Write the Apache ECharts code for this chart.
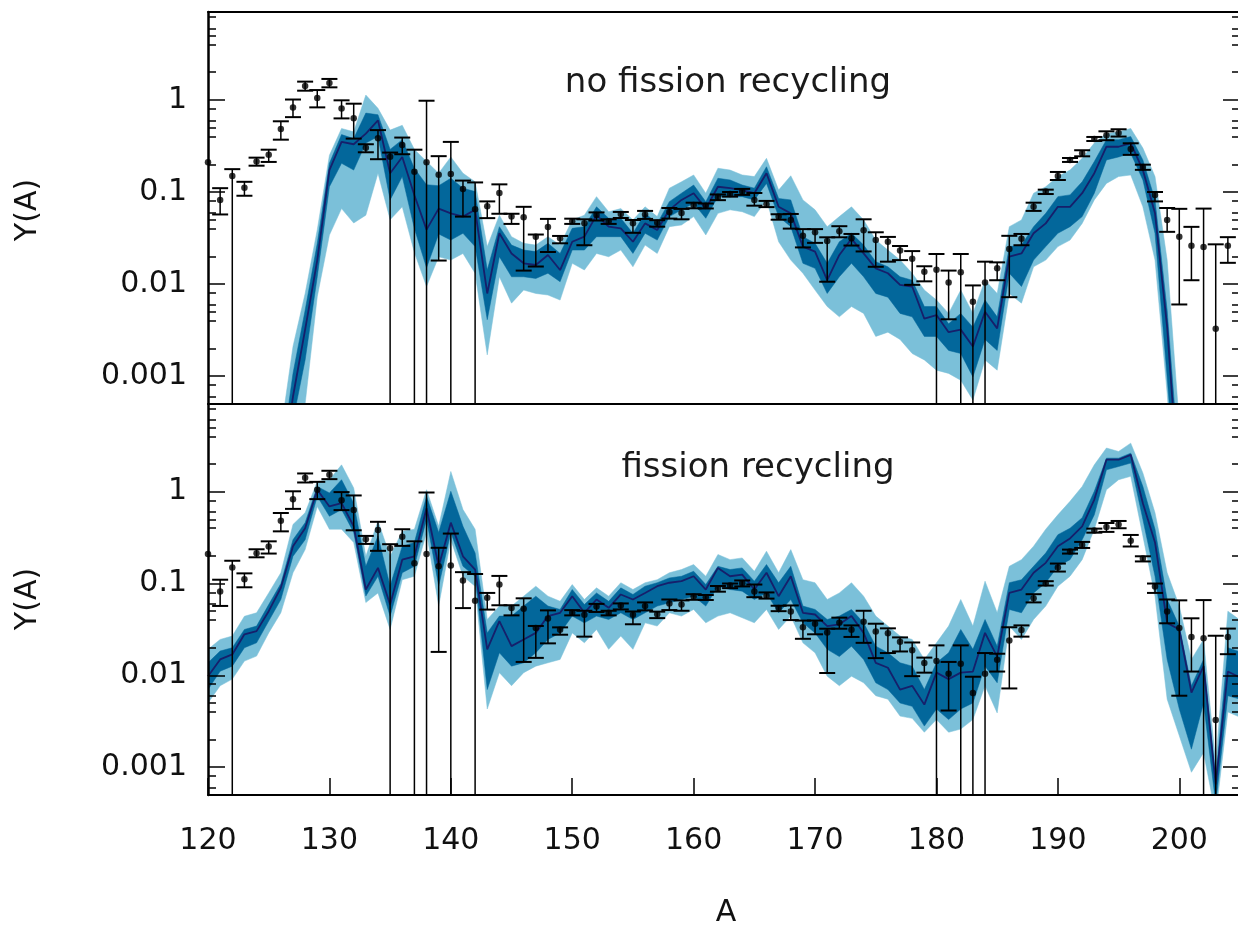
<!DOCTYPE html>
<html>
<head>
<meta charset="utf-8">
<script src="https://cdn.jsdelivr.net/npm/echarts@6/dist/echarts.min.js"></script>
<style>html,body{margin:0;padding:0;background:#fff}#c{width:1238px;height:929px}</style>
</head>
<body>
<div id="c"></div>
<script>
// ---------------- data ----------------
const massNumbers = [
 120,121,122,123,124,125,126,127,128,129,
 130,131,132,133,134,135,136,137,138,139,
 140,141,142,143,144,145,146,147,148,149,
 150,151,152,153,154,155,156,157,158,159,
 160,161,162,163,164,165,166,167,168,169,
 170,171,172,173,174,175,176,177,178,179,
 180,181,182,183,184,185,186,187,188,189,
 190,191,192,193,194,195,196,197,198,199,
 200,201,202,203,204,205];

// solar r-process abundances (points with error bars), 0 = bar reaches the axis
const solarY = [
 0.21,0.082,0.149,0.111,0.214,0.253,0.484,0.825,1.42,1.05,
 1.53,0.805,0.632,0.303,0.383,0.242,0.324,0.166,0.21,0.154,
 0.157,0.108,0.065,0.07,0.0975,0.054,0.053,0.0327,0.0417,0.0314,
 0.048,0.0457,0.0563,0.048,0.0577,0.0457,0.057,0.0464,0.0607,0.059,
 0.072,0.071,0.088,0.095,0.101,0.082,0.0735,0.054,0.0497,0.0335,
 0.0365,0.0293,0.0374,0.0314,0.0383,0.030,0.0288,0.0232,0.0188,0.0136,
 0.0143,0.0104,0.0134,0.00643,0.0104,0.0148,0.024,0.0311,0.069,0.101,
 0.149,0.223,0.263,0.377,0.413,0.438,0.293,0.187,0.0927,0.0497,
 0.0327,0.0261,0.0253,0.00327,0.0261,null];
const solarHi = [
 null,0.11,0.177,0.129,0.236,0.288,0.586,1.01,1.58,1.28,
 1.69,0.99,0.91,0.33,0.47,0.268,0.39,0.288,0.98,0.245,
 0.35,0.133,0.127,0.079,0.121,0.058,0.069,0.0345,0.051,0.0333,
 0.0513,0.0505,0.06,0.0505,0.0607,0.0496,0.0623,0.0494,0.067,0.0655,
 0.0765,0.075,0.094,0.1,0.108,0.0975,0.08,0.0573,0.0577,0.0395,
 0.0395,0.0322,0.0425,0.035,0.0505,0.0365,0.0325,0.0259,0.0228,0.0156,
 0.0212,0.014,0.0212,0.00966,0.0175,0.0172,0.0334,0.035,0.0765,0.106,
 0.165,0.234,0.284,0.396,0.456,0.48,0.338,0.198,0.1,0.067,
 0.0656,0.0418,0.066,0.027,0.0323,null];
const solarLo = [
 null,0.057,0,0.091,0.193,0.212,0.37,0.65,1.26,0.83,
 1.37,0.63,0.38,0.27,0.227,0,0.257,0,0,0.018,
 0,0.054,0,0.052,0.058,0.045,0.014,0.0155,0.0223,0.0277,
 0.045,0.0264,0.049,0.045,0.0522,0.036,0.051,0.042,0.0514,0.0505,
 0.0665,0.0662,0.0815,0.089,0.093,0.071,0.0685,0.05,0.04,0.025,
 0.028,0.0106,0.0322,0.0262,0.0226,0.0154,0.0175,0.0182,0.0098,0.0107,
 0,0.00414,0,0,0,0.011,0.0072,0.0264,0.0623,0.095,
 0.135,0.212,0.244,0.358,0.365,0.4,0.253,0.174,0.079,0.0369,
 0.006,0.011,0,0,0.017,null];

// top panel: no fission recycling
const noRecLightHi = [
 null,null,null,null,null,null,0.00025,0.0021,0.0079,0.039,
 0.25,0.49,0.45,1.13,0.81,0.47,0.53,0.29,0.215,0.16,
 0.24,0.16,0.129,0.0255,0.056,0.0327,0.0277,0.0265,0.0327,0.0265,
 0.0497,0.056,0.089,0.061,0.066,0.0497,0.069,0.054,0.11,0.129,
 0.153,0.097,0.181,0.173,0.153,0.147,0.232,0.105,0.15,0.082,
 0.064,0.042,0.054,0.069,0.0497,0.03,0.0234,0.0182,0.0131,0.0086,
 0.0067,0.0048,0.0086,0.0048,0.011,0.0079,0.042,0.0497,0.097,0.114,
 0.147,0.173,0.232,0.34,0.43,0.45,0.49,0.3,0.147,0.0182,
 0.0003,null,null,null,null,null];
const noRecDarkHi = [
 null,null,null,null,null,null,0.00012,0.00107,0.0052,0.0277,
 0.205,0.42,0.38,0.72,0.69,0.29,0.37,0.18,0.12,0.117,
 0.141,0.11,0.101,0.0142,0.042,0.0265,0.0234,0.0225,0.0277,0.0215,
 0.0403,0.042,0.069,0.0518,0.0518,0.0356,0.0586,0.0456,0.0785,0.097,
 0.119,0.0785,0.141,0.135,0.119,0.11,0.188,0.085,0.082,0.0327,
 0.0277,0.0168,0.0288,0.0356,0.0265,0.0175,0.0154,0.012,0.011,0.0057,
 0.0057,0.0037,0.0048,0.0034,0.0067,0.0044,0.0255,0.0265,0.042,0.0586,
 0.089,0.093,0.129,0.214,0.37,0.37,0.4,0.223,0.082,0.0052,
 0.0001,null,null,null,null,null];
const noRecMedian = [
 null,null,null,null,null,null,0.00007,0.0006,0.0032,0.0182,
 0.173,0.35,0.33,0.43,0.6,0.16,0.24,0.092,0.039,0.066,
 0.0586,0.054,0.064,0.0079,0.0356,0.0215,0.0168,0.0161,0.0207,0.0142,
 0.0288,0.0327,0.056,0.042,0.0403,0.0288,0.0456,0.0386,0.064,0.082,
 0.097,0.066,0.114,0.11,0.105,0.097,0.16,0.069,0.0586,0.0255,
 0.0225,0.011,0.0207,0.031,0.0215,0.0148,0.0131,0.0098,0.0094,0.0042,
 0.0046,0.003,0.0032,0.0021,0.005,0.0033,0.0198,0.0215,0.0356,0.0456,
 0.069,0.069,0.097,0.16,0.31,0.31,0.34,0.173,0.0586,0.0034,
 0.00005,null,null,null,null,null];
const noRecDarkLo = [
 null,null,null,null,null,null,0.00004,0.00033,0.0015,0.012,
 0.114,0.205,0.173,0.34,0.4,0.082,0.147,0.04,0.015,0.035,
 0.03,0.0356,0.0255,0.0041,0.0198,0.012,0.012,0.0115,0.0131,0.0106,
 0.0234,0.0234,0.0327,0.0327,0.0327,0.0215,0.0356,0.03,0.054,0.064,
 0.0753,0.0518,0.089,0.089,0.089,0.082,0.124,0.054,0.042,0.0168,
 0.0148,0.0079,0.012,0.0168,0.012,0.0079,0.0072,0.0048,0.0044,0.0027,
 0.0027,0.0019,0.00176,0.00098,0.0025,0.0019,0.0131,0.0094,0.0182,0.0255,
 0.0356,0.042,0.054,0.097,0.223,0.24,0.263,0.135,0.0356,0.00098,
 0.00002,null,null,null,null,null];
const noRecLightLo = [
 null,null,null,null,null,null,0.00002,0.0002,0.0005,0.0073,
 0.034,0.066,0.046,0.056,0.16,0.05,0.069,0.022,0.0094,0.0198,
 0.0182,0.0215,0.0131,0.0017,0.012,0.0062,0.0086,0.0079,0.0076,0.0067,
 0.0168,0.0142,0.0215,0.0198,0.0234,0.0154,0.0265,0.0215,0.042,0.0438,
 0.054,0.0341,0.0586,0.064,0.061,0.054,0.082,0.0288,0.0182,0.0131,
 0.0086,0.0057,0.0044,0.0057,0.0048,0.0027,0.003,0.0025,0.00176,0.0015,
 0.00116,0.00107,0.0009,0.00055,0.0015,0.00116,0.0079,0.0062,0.0154,0.0182,
 0.0255,0.03,0.0456,0.082,0.124,0.147,0.153,0.069,0.0182,0.00065,
 0.00001,null,null,null,null,null];

// bottom panel: fission recycling
const recLightHi = [
 0.0192,0.0246,0.0268,0.044,0.048,0.079,0.131,0.44,0.59,1.29,
 1.35,1.96,1.1,0.198,0.48,0.198,0.37,0.39,1.05,0.42,
 1.66,0.64,0.39,0.0406,0.0568,0.0568,0.0728,0.0935,0.0728,0.064,
 0.0975,0.067,0.0897,0.0728,0.102,0.086,0.102,0.11,0.131,0.142,
 0.161,0.12,0.207,0.182,0.19,0.136,0.225,0.131,0.234,0.11,
 0.102,0.067,0.079,0.102,0.0728,0.0442,0.0344,0.0268,0.0246,0.0149,
 0.0226,0.0344,0.067,0.0344,0.106,0.048,0.154,0.182,0.255,0.39,
 0.56,0.785,1.14,1.96,2.99,2.74,3.38,1.6,0.59,0.131,
 0.0568,0.0149,0.0246,0.0011,0.05,0.04];
const recDarkHi = [
 0.0137,0.0184,0.02,0.0316,0.0344,0.059,0.1,0.3,0.46,1.14,
 0.97,1.35,0.75,0.154,0.33,0.094,0.255,0.28,0.89,0.36,
 1.01,0.42,0.215,0.029,0.0442,0.0442,0.0568,0.0728,0.0568,0.0522,
 0.086,0.059,0.079,0.064,0.0897,0.076,0.0935,0.102,0.115,0.12,
 0.136,0.0975,0.154,0.142,0.148,0.106,0.161,0.102,0.154,0.0568,
 0.0522,0.0406,0.0442,0.0522,0.0373,0.0208,0.0176,0.0137,0.0126,0.007,
 0.0137,0.0176,0.0316,0.0192,0.0406,0.0208,0.102,0.11,0.154,0.215,
 0.34,0.4,0.52,1.01,2.32,2.32,2.63,1.14,0.39,0.067,
 0.0344,0.0077,0.0149,0.00075,0.02,0.018];
const recMedian = [
 0.0098,0.0149,0.0169,0.028,0.0303,0.05,0.09,0.255,0.4,1.05,
 0.69,0.75,0.42,0.086,0.148,0.059,0.182,0.198,0.66,0.154,
 0.46,0.198,0.142,0.0192,0.039,0.0208,0.0246,0.029,0.0442,0.048,
 0.0728,0.048,0.067,0.0544,0.076,0.067,0.079,0.0935,0.102,0.106,
 0.12,0.086,0.148,0.12,0.125,0.086,0.131,0.0728,0.12,0.048,
 0.046,0.0344,0.036,0.0442,0.029,0.0137,0.0121,0.007,0.0077,0.0048,
 0.0107,0.0091,0.0107,0.011,0.029,0.016,0.079,0.086,0.131,0.168,
 0.255,0.31,0.42,0.82,2.23,2.23,2.52,0.75,0.28,0.0373,
 0.0316,0.0065,0.0126,0.00065,0.011,0.0095];
const recDarkLo = [
 0.007,0.0111,0.0126,0.02,0.0226,0.039,0.067,0.198,0.3,0.89,
 0.54,0.64,0.36,0.073,0.12,0.044,0.131,0.154,0.5,0.094,
 0.36,0.154,0.12,0.007,0.0176,0.0126,0.0137,0.0176,0.0246,0.029,
 0.0442,0.0373,0.0442,0.0406,0.048,0.0406,0.048,0.0568,0.0617,0.067,
 0.0728,0.0568,0.0935,0.086,0.0826,0.067,0.079,0.048,0.067,0.0373,
 0.029,0.0192,0.016,0.0208,0.0149,0.0083,0.007,0.005,0.0046,0.0028,
 0.0043,0.0033,0.0043,0.005,0.0126,0.0083,0.0522,0.048,0.079,0.102,
 0.154,0.182,0.3,0.56,1.73,1.88,2.05,0.5,0.12,0.0149,
 0.0043,0.00157,0.005,0.0004,0.006,0.0055];
const recLightLo = [
 0.005,0.0077,0.0091,0.0143,0.0162,0.029,0.048,0.131,0.234,0.69,
 0.39,0.39,0.28,0.062,0.079,0.0316,0.11,0.12,0.36,0.057,
 0.3,0.12,0.0935,0.0043,0.0107,0.0077,0.0107,0.0126,0.0137,0.0149,
 0.029,0.0226,0.0316,0.0192,0.0268,0.0192,0.0373,0.0344,0.048,0.0442,
 0.0522,0.0373,0.0442,0.048,0.0424,0.0373,0.0522,0.0316,0.0442,0.0226,
 0.0176,0.0098,0.0077,0.0098,0.0083,0.006,0.0055,0.0036,0.0034,0.0024,
 0.0033,0.0024,0.0026,0.0033,0.0077,0.0039,0.0344,0.0246,0.0406,0.0568,
 0.0935,0.12,0.182,0.39,1.05,1.35,1.47,0.33,0.0728,0.0055,
 0.0022,0.00088,0.00144,0.0003,0.004,0.0035];

// ticks and labels
const xTickValues = [120,130,140,150,160,170,180,190,200];
const yMajorValues = [0.001,0.01,0.1,1];
const yMajorLabels = ['0.001','0.01','0.1','1'];
const yMinorMantissas = [2,4,5,6,8];
const panelTitles = ['no fission recycling','fission recycling'];

// ---------------- build ----------------
const Y_MIN = -3.303, Y_MAX = 0.955;
const X_MIN = 120, X_MAX = 205;
const lg = v => Math.log10(v);
const MAJOR = yMajorValues.map(lg);
const MINOR = [];
for (let k = -4; k <= 0; k++) yMinorMantissas.forEach(m => {
  const v = lg(m) + k; if (v > Y_MIN && v < Y_MAX) MINOR.push(v);
});

const C_LIGHT = '#7bc0d9', C_DARK = '#03679b', C_MED = '#161f6b';
const font = {fontFamily: 'DejaVu Sans', fontSize: 30, color: '#111'};

function clipRect(params) {
  const cs = params.coordSys;
  return {type: 'rect', shape: {x: cs.x, y: cs.y, width: cs.width, height: cs.height}};
}

// band between lo and hi, drawn as one polygon through the axis scales
function bandSeries(g, hi, lo, color, z) {
  return {
    type: 'custom', xAxisIndex: g, yAxisIndex: g * 4, z: z, silent: true,
    data: [[X_MIN, Y_MIN]], encode: {x: 0, y: 1},
    renderItem: function (params, api) {
      const up = [], down = [];
      massNumbers.forEach((a, i) => {
        if (hi[i] == null || lo[i] == null) return;
        up.push(api.coord([a, lg(hi[i])]));
        down.push(api.coord([a, lg(lo[i])]));
      });
      return {
        type: 'polygon', shape: {points: up.concat(down.reverse())},
        style: {fill: color, stroke: color, lineWidth: 0.5},
        clipPath: clipRect(params)
      };
    }
  };
}

function errData() {
  const out = [];
  massNumbers.forEach((a, i) => {
    if (solarY[i] == null || solarHi[i] == null) return;
    out.push([a, lg(solarY[i]), solarLo[i] > 0 ? lg(solarLo[i]) : -99, lg(solarHi[i])]);
  });
  return out;
}
function renderErr(params, api) {
  const a = api.value(0), lo = api.value(2), hi = api.value(3);
  const top = api.coord([a, hi]);
  const hasLo = lo > Y_MIN;
  const bot = api.coord([a, hasLo ? lo : Y_MIN]);
  const h = 8;
  const ch = [
    {type: 'line', shape: {x1: top[0], y1: top[1], x2: bot[0], y2: bot[1]}, style: {stroke: '#000', lineWidth: 1.5}},
    {type: 'line', shape: {x1: top[0] - h, y1: top[1], x2: top[0] + h, y2: top[1]}, style: {stroke: '#000', lineWidth: 2}}
  ];
  if (hasLo) ch.push({type: 'line', shape: {x1: bot[0] - h, y1: bot[1], x2: bot[0] + h, y2: bot[1]}, style: {stroke: '#000', lineWidth: 2}});
  return {type: 'group', children: ch};
}

function panelSeries(g, lh, dh, md, dl, ll) {
  return [
    bandSeries(g, lh, ll, C_LIGHT, 1),
    bandSeries(g, dh, dl, C_DARK, 1.5),
    {type: 'line', xAxisIndex: g, yAxisIndex: g * 4, data: massNumbers.map((a, i) => [a, md[i] == null ? null : lg(md[i])]),
      symbol: 'none', clip: true, z: 2, lineStyle: {color: C_MED, width: 1.8}, silent: true},
    {type: 'custom', xAxisIndex: g, yAxisIndex: g * 4, data: errData(), renderItem: renderErr,
      encode: {x: 0, y: 1}, z: 3, silent: true},
    {type: 'scatter', xAxisIndex: g, yAxisIndex: g * 4, data: massNumbers.map((a, i) => [a, solarY[i] == null ? null : lg(solarY[i])]),
      symbolSize: 6.5, itemStyle: {color: '#000'}, z: 4, silent: true, clip: true}
  ];
}

function yAxesFor(g) {
  const base = {type: 'value', gridIndex: g, min: Y_MIN, max: Y_MAX, splitLine: {show: false}, z: 10};
  const line = {show: true, onZero: false, lineStyle: {color: '#000', width: 2.5}};
  const majT = {show: true, inside: true, length: 17, customValues: MAJOR, lineStyle: {color: '#000', width: 1.5}};
  const minT = {show: true, inside: true, length: 8, customValues: MINOR, lineStyle: {color: '#000', width: 1.5}};
  return [
    Object.assign({}, base, {position: 'left', axisLine: line, axisTick: majT,
      axisLabel: Object.assign({show: true, customValues: MAJOR, margin: 21,
        formatter: v => { const i = MAJOR.findIndex(m => Math.abs(m - v) < 1e-6); return i >= 0 ? yMajorLabels[i] : ''; }}, font)}),
    Object.assign({}, base, {position: 'left', axisLine: {show: false}, axisTick: minT, axisLabel: {show: false}}),
    Object.assign({}, base, {position: 'right', axisLine: line, axisTick: majT, axisLabel: {show: false}}),
    Object.assign({}, base, {position: 'right', axisLine: {show: false}, axisTick: minT, axisLabel: {show: false}})
  ];
}

const xLine = {show: true, onZero: false, lineStyle: {color: '#000', width: 2}};
const option = {
  animation: false,
  backgroundColor: '#fff',
  grid: [
    {left: 208, top: 12, width: 1032, height: 392, outerBoundsMode: 'none', containLabel: false},
    {left: 208, top: 404, width: 1032, height: 391, outerBoundsMode: 'none', containLabel: false}
  ],
  xAxis: [
    {type: 'value', gridIndex: 0, min: X_MIN, max: X_MAX, position: 'bottom', axisLine: xLine,
      axisTick: {show: false}, axisLabel: {show: false}, splitLine: {show: false}, z: 10},
    {type: 'value', gridIndex: 1, min: X_MIN, max: X_MAX, position: 'bottom', axisLine: xLine,
      axisTick: {show: true, inside: true, length: 17, customValues: xTickValues, lineStyle: {color: '#000', width: 1.5}},
      axisLabel: Object.assign({show: true, customValues: xTickValues, margin: 31}, font),
      splitLine: {show: false}, z: 10},
    {type: 'value', gridIndex: 0, min: X_MIN, max: X_MAX, position: 'top', axisLine: xLine,
      axisTick: {show: false}, axisLabel: {show: false}, splitLine: {show: false}, z: 10}
  ],
  yAxis: [...yAxesFor(0), ...yAxesFor(1)],
  series: [
    ...panelSeries(0, noRecLightHi, noRecDarkHi, noRecMedian, noRecDarkLo, noRecLightLo),
    ...panelSeries(1, recLightHi, recDarkHi, recMedian, recDarkLo, recLightLo)
  ],
  graphic: [
    {type: 'text', x: 728, y: 83, z: 20, style: {text: panelTitles[0], font: '34px "DejaVu Sans"', fill: '#1a1a1a', align: 'center', verticalAlign: 'middle'}},
    {type: 'text', x: 758, y: 468, z: 20, style: {text: panelTitles[1], font: '34px "DejaVu Sans"', fill: '#1a1a1a', align: 'center', verticalAlign: 'middle'}},
    {type: 'text', x: 28, y: 210, rotation: Math.PI / 2, z: 20, style: {text: 'Y(A)', font: '30px "DejaVu Sans"', fill: '#111', align: 'center', verticalAlign: 'middle'}},
    {type: 'text', x: 28, y: 599, rotation: Math.PI / 2, z: 20, style: {text: 'Y(A)', font: '30px "DejaVu Sans"', fill: '#111', align: 'center', verticalAlign: 'middle'}},
    {type: 'text', x: 726, y: 913, z: 20, style: {text: 'A', font: '30px "DejaVu Sans"', fill: '#111', align: 'center', verticalAlign: 'middle'}}
  ]
};
const chart = echarts.init(document.getElementById('c'), null, {renderer: 'canvas', width: 1238, height: 929});
chart.setOption(option);
</script>
</body>
</html>
